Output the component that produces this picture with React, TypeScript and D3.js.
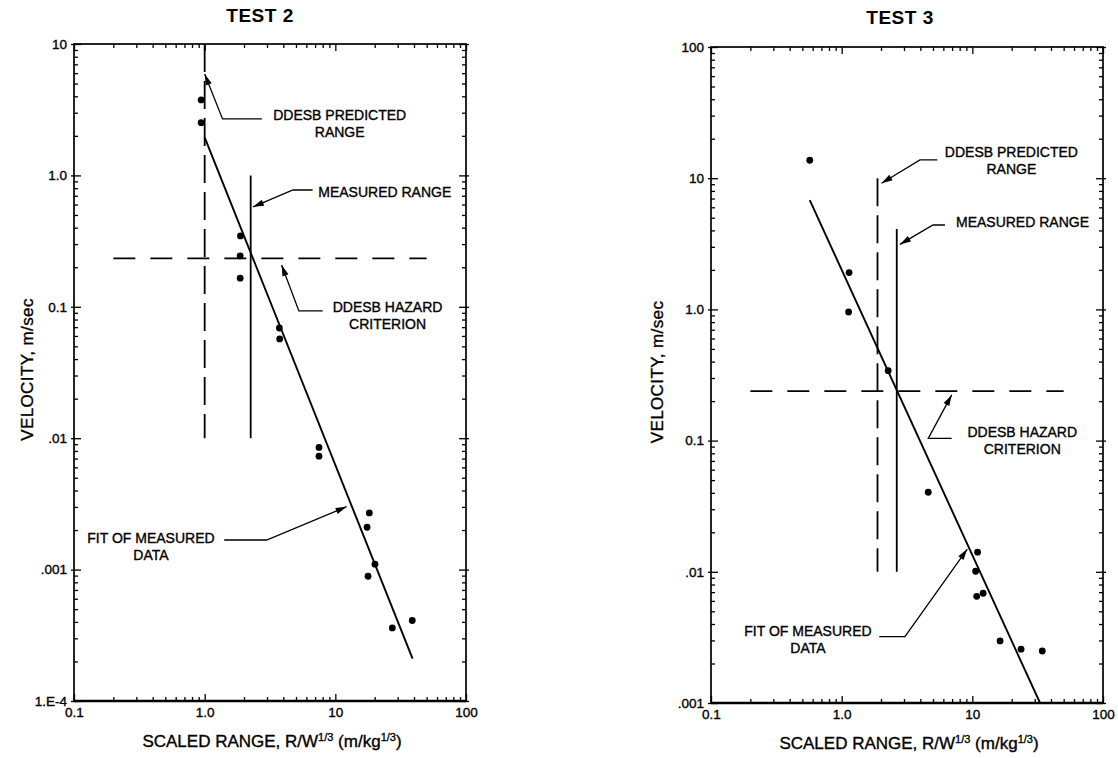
import React, { useEffect, useRef } from 'react';
import * as d3 from 'd3';

// ---- Shared axis definitions
const rangeDomain = [0.1, 100];
const rangeTicks = [0.1, 1, 10, 100];
const rangeTickLabels = ['0.1', '1.0', '10', '100'];

// ---- TEST 2
const test2VelDomain = [1e-4, 10];
const test2VelTicks = [1e-4, 1e-3, 1e-2, 0.1, 1, 10];
const test2VelTickLabels = ['1.E-4', '.001', '.01', '0.1', '1.0', '10'];
const test2Range = [0.94, 0.94, 1.88, 1.87, 1.87, 3.73, 3.75, 7.5, 7.5, 18.2, 17.5, 20.1, 17.8, 27.3, 38.8];
const test2Velocity = [3.75, 2.52, 0.346, 0.244, 0.165, 0.069, 0.057, 0.0085, 0.0073, 0.0027, 0.0021, 0.0011, 0.00089, 0.00036, 0.00041];
const test2FitRange = [1.0, 39];
const test2FitVelocity = [1.95, 0.00021];
const test2Predicted = { range: 1.0, velocity: [0.01, 10] };
const test2Measured = { range: 2.25, velocity: [0.01, 1.0] };
const test2Hazard = { velocity: 0.234, range: [0.2, 50] };
const test2Notes = [
    { lines: ['DDESB PREDICTED', 'RANGE'], at: [10.8, 2.83], path: [[2.74, 2.69], [1.37, 2.69], [1.0, 5.9]] },
    { lines: ['MEASURED RANGE'], at: [23.9, 0.734], path: [[6.7, 0.774], [4.74, 0.774], [2.34, 0.575]] },
    { lines: ['DDESB HAZARD', 'CRITERION'], at: [25.1, 0.098], path: [[8.0, 0.093], [5.26, 0.093], [3.88, 0.208]] },
    { lines: ['FIT OF MEASURED', 'DATA'], at: [0.388, 0.0017], path: [[1.41, 0.00168], [2.98, 0.00168], [12.2, 0.00301]] }
];

// ---- TEST 3
const test3VelDomain = [1e-3, 100];
const test3VelTicks = [1e-3, 1e-2, 0.1, 1, 10, 100];
const test3VelTickLabels = ['.001', '.01', '0.1', '1.0', '10', '100'];
const test3Range = [0.57, 1.14, 1.13, 2.27, 4.6, 10.97, 10.6, 10.8, 12.1, 16.3, 23.6, 34.3];
const test3Velocity = [13.7, 1.91, 0.955, 0.341, 0.0404, 0.0141, 0.0101, 0.0065, 0.00686, 0.00297, 0.00257, 0.00249];
const test3FitRange = [0.57, 33];
const test3FitVelocity = [6.8, 0.001];
const test3Predicted = { range: 1.88, velocity: [0.01, 10] };
const test3Measured = { range: 2.64, velocity: [0.01, 4.1] };
const test3Hazard = { velocity: 0.238, range: [0.2, 50] };
const test3Notes = [
    { lines: ['DDESB PREDICTED', 'RANGE'], at: [19.9, 15.6], path: [[5.39, 13.8], [3.97, 13.8], [2.02, 9.15]] },
    { lines: ['MEASURED RANGE'], at: [24.2, 4.56], path: [[6.17, 4.4], [5.0, 4.4], [2.79, 3.13]] },
    { lines: ['DDESB HAZARD', 'CRITERION'], at: [24.1, 0.115], path: [[6.95, 0.104], [4.6, 0.104], [6.95, 0.223]] },
    { lines: ['FIT OF MEASURED', 'DATA'], at: [0.552, 0.00349], path: [[1.94, 0.0032], [3.05, 0.0032], [9.15, 0.0149]] }
];

const FONT = '"Liberation Sans", Arial, Helvetica, sans-serif';
const INK = '#000';

const panels = [
    {
        title: 'TEST 2', titleX: 260, titleY: 22,
        left: 74, right: 466, top: 44, bottom: 701, yLabelX: 33,
        yDomain: test2VelDomain, yTicks: test2VelTicks, yTickLabels: test2VelTickLabels,
        range: test2Range, velocity: test2Velocity,
        fitRange: test2FitRange, fitVelocity: test2FitVelocity,
        predicted: test2Predicted, measured: test2Measured, hazard: test2Hazard, notes: test2Notes
    },
    {
        title: 'TEST 3', titleX: 900, titleY: 24,
        left: 711, right: 1103, top: 47, bottom: 703, yLabelX: 663,
        yDomain: test3VelDomain, yTicks: test3VelTicks, yTickLabels: test3VelTickLabels,
        range: test3Range, velocity: test3Velocity,
        fitRange: test3FitRange, fitVelocity: test3FitVelocity,
        predicted: test3Predicted, measured: test3Measured, hazard: test3Hazard, notes: test3Notes
    }
];

const isDecade = (v: number) => Math.abs(Math.log10(v) - Math.round(Math.log10(v))) < 1e-6;

// scanned-print look: slightly heavier glyphs
const ink = (sel: any) => sel.attr('fill', INK).attr('stroke', INK).attr('stroke-width', 0.35);

function styleAxis(sel: any) {
    sel.select('.domain').remove();
    sel.selectAll('line').attr('stroke', INK).attr('stroke-width', 1.3);
    sel.attr('font-family', FONT).attr('font-size', 13.5);
    sel.selectAll('text').call(ink);
}

function drawPanel(svg: any, p: any) {
    const x = d3.scaleLog().domain(rangeDomain).range([p.left, p.right]);
    const y = d3.scaleLog().domain(p.yDomain).range([p.bottom, p.top]);
    const g = svg.append('g');

    const xMinor = x.ticks().filter((v: number) => !isDecade(v));
    const yMinor = y.ticks().filter((v: number) => !isDecade(v));

    // ---- Ticks (inward, all four sides)
    g.append('g').attr('transform', `translate(0,${p.bottom})`)
        .call(d3.axisBottom(x).tickValues(xMinor).tickSize(-4).tickFormat(() => '')).call(styleAxis);
    g.append('g').attr('transform', `translate(0,${p.bottom})`)
        .call(d3.axisBottom(x).tickValues(rangeTicks).tickSize(-7).tickPadding(6)
            .tickFormat((d: any, i: number) => rangeTickLabels[i])).call(styleAxis);
    g.append('g').attr('transform', `translate(0,${p.top})`)
        .call(d3.axisTop(x).tickValues(xMinor).tickSize(-4).tickFormat(() => '')).call(styleAxis);
    g.append('g').attr('transform', `translate(0,${p.top})`)
        .call(d3.axisTop(x).tickValues(rangeTicks).tickSize(-7).tickFormat(() => '')).call(styleAxis);

    g.append('g').attr('transform', `translate(${p.left},0)`)
        .call(d3.axisLeft(y).tickValues(yMinor).tickSize(-4).tickFormat(() => '')).call(styleAxis);
    g.append('g').attr('transform', `translate(${p.left},0)`)
        .call(d3.axisLeft(y).tickValues(p.yTicks).tickSize(-7).tickFormat(() => '')).call(styleAxis);
    g.append('g').attr('transform', `translate(${p.left},0)`)
        .call(d3.axisLeft(y).tickValues(p.yTicks).tickSize(3).tickPadding(4)
            .tickFormat((d: any, i: number) => p.yTickLabels[i])).call(styleAxis);
    g.append('g').attr('transform', `translate(${p.right},0)`)
        .call(d3.axisRight(y).tickValues(yMinor).tickSize(-4).tickFormat(() => '')).call(styleAxis);
    g.append('g').attr('transform', `translate(${p.right},0)`)
        .call(d3.axisRight(y).tickValues(p.yTicks).tickSize(-7).tickFormat(() => '')).call(styleAxis);
    g.append('g').attr('transform', `translate(${p.right},0)`)
        .call(d3.axisRight(y).tickValues(p.yTicks).tickSize(3).tickFormat(() => '')).call(styleAxis);

    // ---- Frame
    g.append('rect')
        .attr('x', p.left).attr('y', p.top)
        .attr('width', p.right - p.left).attr('height', p.bottom - p.top)
        .attr('fill', 'none').attr('stroke', INK).attr('stroke-width', 1.7);
    g.append('line')
        .attr('x1', p.left).attr('x2', p.right).attr('y1', p.bottom).attr('y2', p.bottom)
        .attr('stroke', INK).attr('stroke-width', 2.4);

    // ---- Title
    g.append('text')
        .attr('x', p.titleX).attr('y', p.titleY)
        .attr('text-anchor', 'middle')
        .attr('font-family', FONT).attr('font-size', 19).attr('font-weight', 700)
        .attr('letter-spacing', 0.5)
        .attr('fill', INK)
        .text(p.title);

    // ---- Axis labels
    g.append('text')
        .attr('transform', `translate(${p.yLabelX},${(p.top + p.bottom) / 2 - 3}) rotate(-90)`)
        .attr('text-anchor', 'middle')
        .attr('font-family', FONT).attr('font-size', 17).attr('letter-spacing', 0.4)
        .call(ink)
        .text('VELOCITY, m/sec');

    const xl = g.append('text')
        .attr('x', (p.left + p.right) / 2 + 2).attr('y', p.bottom + 46)
        .attr('text-anchor', 'middle')
        .attr('font-family', FONT).attr('font-size', 17)
        .call(ink);
    xl.append('tspan').text('SCALED RANGE, R/W');
    xl.append('tspan').attr('dy', -6).attr('font-size', 11).text('1/3');
    xl.append('tspan').attr('dy', 6).text(' (m/kg');
    xl.append('tspan').attr('dy', -6).attr('font-size', 11).text('1/3');
    xl.append('tspan').attr('dy', 6).text(')');

    // ---- Hazard criterion (horizontal dashed)
    g.append('line')
        .attr('x1', x(p.hazard.range[0])).attr('x2', x(p.hazard.range[1]))
        .attr('y1', y(p.hazard.velocity)).attr('y2', y(p.hazard.velocity))
        .attr('stroke', INK).attr('stroke-width', 1.8)
        .attr('stroke-dasharray', '22,15');

    // ---- Predicted range (vertical dashed)
    g.append('line')
        .attr('x1', x(p.predicted.range)).attr('x2', x(p.predicted.range))
        .attr('y1', y(p.predicted.velocity[1])).attr('y2', y(p.predicted.velocity[0]))
        .attr('stroke', INK).attr('stroke-width', 1.8)
        .attr('stroke-dasharray', '28,9');

    // ---- Measured range (vertical solid)
    g.append('line')
        .attr('x1', x(p.measured.range)).attr('x2', x(p.measured.range))
        .attr('y1', y(p.measured.velocity[1])).attr('y2', y(p.measured.velocity[0]))
        .attr('stroke', INK).attr('stroke-width', 1.8);

    // ---- Fit of measured data
    const fit = p.fitRange.map((r: number, i: number) => [r, p.fitVelocity[i]]);
    g.append('path')
        .datum(fit)
        .attr('fill', 'none')
        .attr('stroke', INK)
        .attr('stroke-width', 1.9)
        .attr('d', d3.line().x((d: any) => x(d[0])).y((d: any) => y(d[1])));

    // ---- Measured points
    const pts = p.range.map((r: number, i: number) => ({ r, v: p.velocity[i] }));
    g.selectAll('.pt')
        .data(pts)
        .enter()
        .append('circle')
        .attr('class', 'pt')
        .attr('cx', (d: any) => x(d.r))
        .attr('cy', (d: any) => y(d.v))
        .attr('r', 3.4)
        .attr('fill', INK);

    // ---- Annotations with leader arrows
    p.notes.forEach((n: any) => {
        const path = n.path.map((q: number[]) => [x(q[0]), y(q[1])]);
        g.append('path')
            .attr('fill', 'none').attr('stroke', INK).attr('stroke-width', 1.3)
            .attr('d', d3.line()(path));
        const [x1, y1] = path[path.length - 2];
        const [x2, y2] = path[path.length - 1];
        const a = Math.atan2(y2 - y1, x2 - x1);
        const len = 11, hw = 3.2;
        const bx = x2 - len * Math.cos(a), by = y2 - len * Math.sin(a);
        g.append('polygon')
            .attr('points', [
                [x2, y2],
                [bx + hw * Math.sin(a), by - hw * Math.cos(a)],
                [bx - hw * Math.sin(a), by + hw * Math.cos(a)]
            ].map(q => q.join(',')).join(' '))
            .attr('fill', INK);

        const t = g.append('text')
            .attr('x', x(n.at[0])).attr('y', y(n.at[1]))
            .attr('text-anchor', 'middle')
            .attr('dominant-baseline', 'middle')
            .attr('font-family', FONT).attr('font-size', 14)
            .call(ink);
        n.lines.forEach((line: string, i: number) => {
            t.append('tspan')
                .attr('x', x(n.at[0]))
                .attr('dy', i === 0 ? 0 : 17)
                .text(line);
        });
    });
}

export default function App() {
    const svgRef = useRef<SVGSVGElement>(null);

    useEffect(() => {
        const svg = d3.select(svgRef.current);
        svg.selectAll('*').remove();
        panels.forEach(p => drawPanel(svg, p));
    }, []);

    return (
        <svg
            ref={svgRef}
            width={1118}
            height={758}
            style={{ position: 'absolute', left: 0, top: 0, background: '#fff' }}
        />
    );
}
